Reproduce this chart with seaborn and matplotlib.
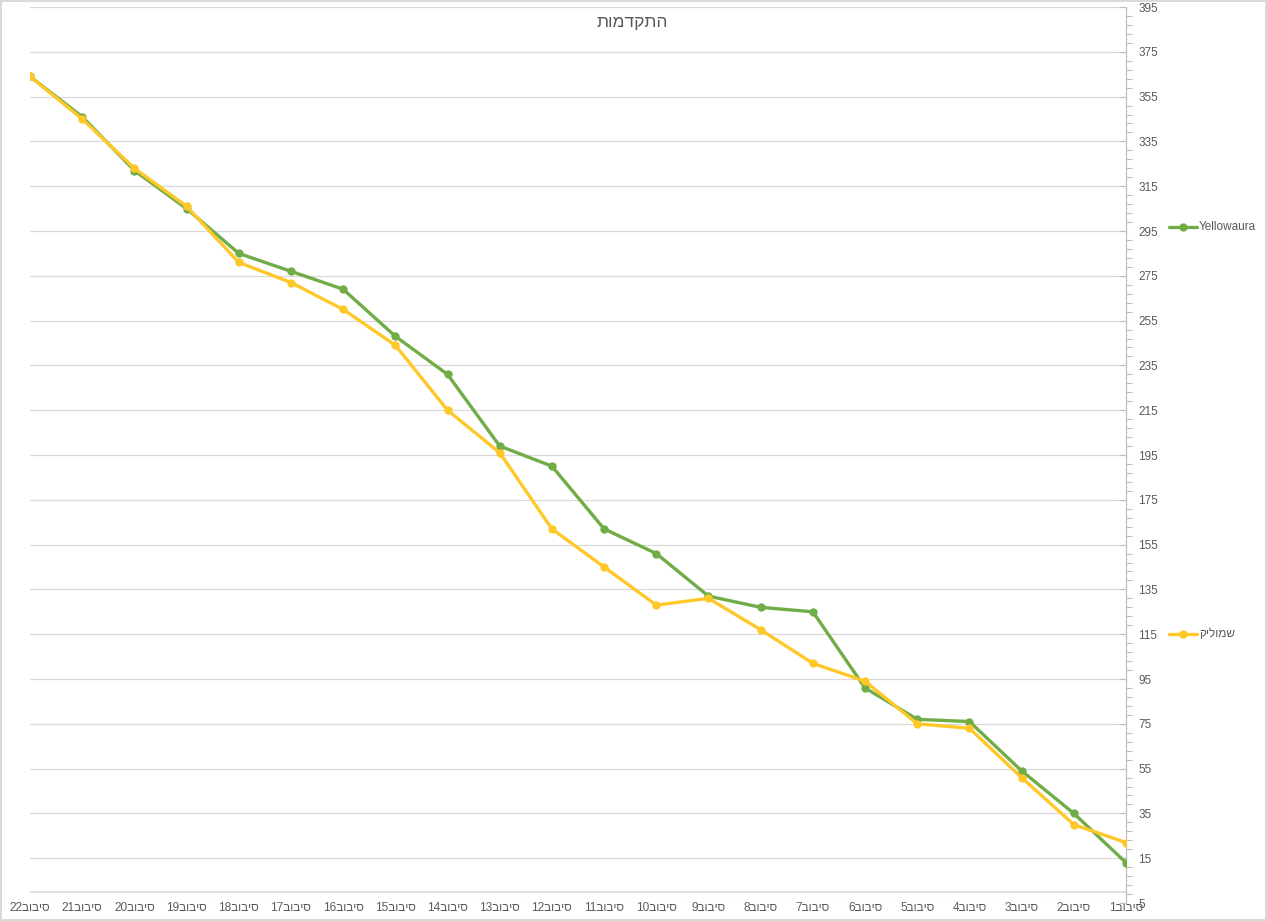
import numpy as np
import pandas as pd
import seaborn as sns
import matplotlib.pyplot as plt
from matplotlib.lines import Line2D
from matplotlib.ticker import FixedLocator

# data, in left-to-right order of the picture (round 22 ... round 1)
rounds = list(range(22, 0, -1))
yellowaura = [364, 346, 322, 305, 285, 277, 269, 248, 231, 199, 190, 162,
              151, 132, 127, 125, 91, 77, 76, 54, 35, 13]
shmulik = [364, 345, 323, 306, 281, 272, 260, 244, 215, 196, 162, 145,
           128, 131, 117, 102, 94, 75, 73, 51, 30, 22]
names = ["Yellowaura", "שמוליק"]
title = "התקדמות"
round_word = "סיבוב"

GREEN = "#70AD47"
GOLD = "#FFC829"
TXT = "#595959"
GRID = "#D9D9D9"

W, H = 1267, 921

sns.set_theme(style="white")
plt.rcParams["font.family"] = ["Liberation Sans", "DejaVu Sans"]

df = pd.DataFrame({"round": rounds * 2,
                   "points": yellowaura + shmulik,
                   "player": [names[0]] * len(rounds) + [names[1]] * len(rounds)})

fig = plt.figure(figsize=(W / 100, H / 100), dpi=100)
fig.patch.set_edgecolor(GRID)
fig.patch.set_linewidth(1.5)
ax = fig.add_axes([30 / W, 1 - 903 / H, (1126 - 30) / W, (903 - 7) / H])

sns.lineplot(data=df, x="round", y="points", hue="player",
             palette={names[0]: GREEN, names[1]: GOLD},
             marker="o", markersize=6, markeredgewidth=0, linewidth=2.4,
             legend=False, ax=ax, zorder=3)

ax.set_xlim(22, 1)
ax.set_ylim(-5, 395)
ax.set_xlabel("")
ax.set_ylabel("")

# y axis on the right like the Excel chart
ax.yaxis.tick_right()
yt = np.arange(-5, 396, 20)
ax.set_yticks(yt)
ax.set_yticklabels([str(abs(v)) for v in yt])
ax.yaxis.set_minor_locator(FixedLocator(np.arange(-5, 396, 4)))
ax.tick_params(axis="y", which="major", direction="in", length=5, width=0.8,
               color="#BFBFBF", labelsize=8.5, labelcolor=TXT, pad=9, right=True)
ax.tick_params(axis="y", which="minor", direction="out", length=4, width=0.8,
               color="#BFBFBF", right=True)
ax.yaxis.grid(True, which="major", color=GRID, linewidth=0.9)
ax.set_axisbelow(True)

ax.set_xticks(rounds)
ax.set_xticklabels([f"{r}{round_word[::-1]}" for r in rounds])
ax.tick_params(axis="x", length=0, labelsize=8.5, labelcolor=TXT, pad=-1)

for s in ["left", "top", "bottom"]:
    ax.spines[s].set_visible(False)
ax.spines["right"].set_color("#BFBFBF")
ax.spines["right"].set_linewidth(0.9)
ax.axhline(0, color=GRID, linewidth=1.2, zorder=1)

fig.text(632 / W, 1 - 22 / H, title[::-1], ha="center", va="center",
         fontsize=12.5, color=TXT)

# legend entries placed at the right, one per series
for name, col, ypx in [(names[0], GREEN, 227), (names[1], GOLD, 634)]:
    yy = 1 - ypx / H
    fig.add_artist(Line2D([1169 / W, 1197 / W], [yy, yy], color=col, lw=2.4,
                          transform=fig.transFigure))
    fig.add_artist(Line2D([1183 / W], [yy], color=col, marker="o", markersize=6,
                          markeredgewidth=0, transform=fig.transFigure))
    label = name if name.isascii() else name[::-1]
    fig.text(1199 / W, yy, label, ha="left", va="center", fontsize=8.5, color=TXT)

fig.savefig("out.png", dpi=100)
